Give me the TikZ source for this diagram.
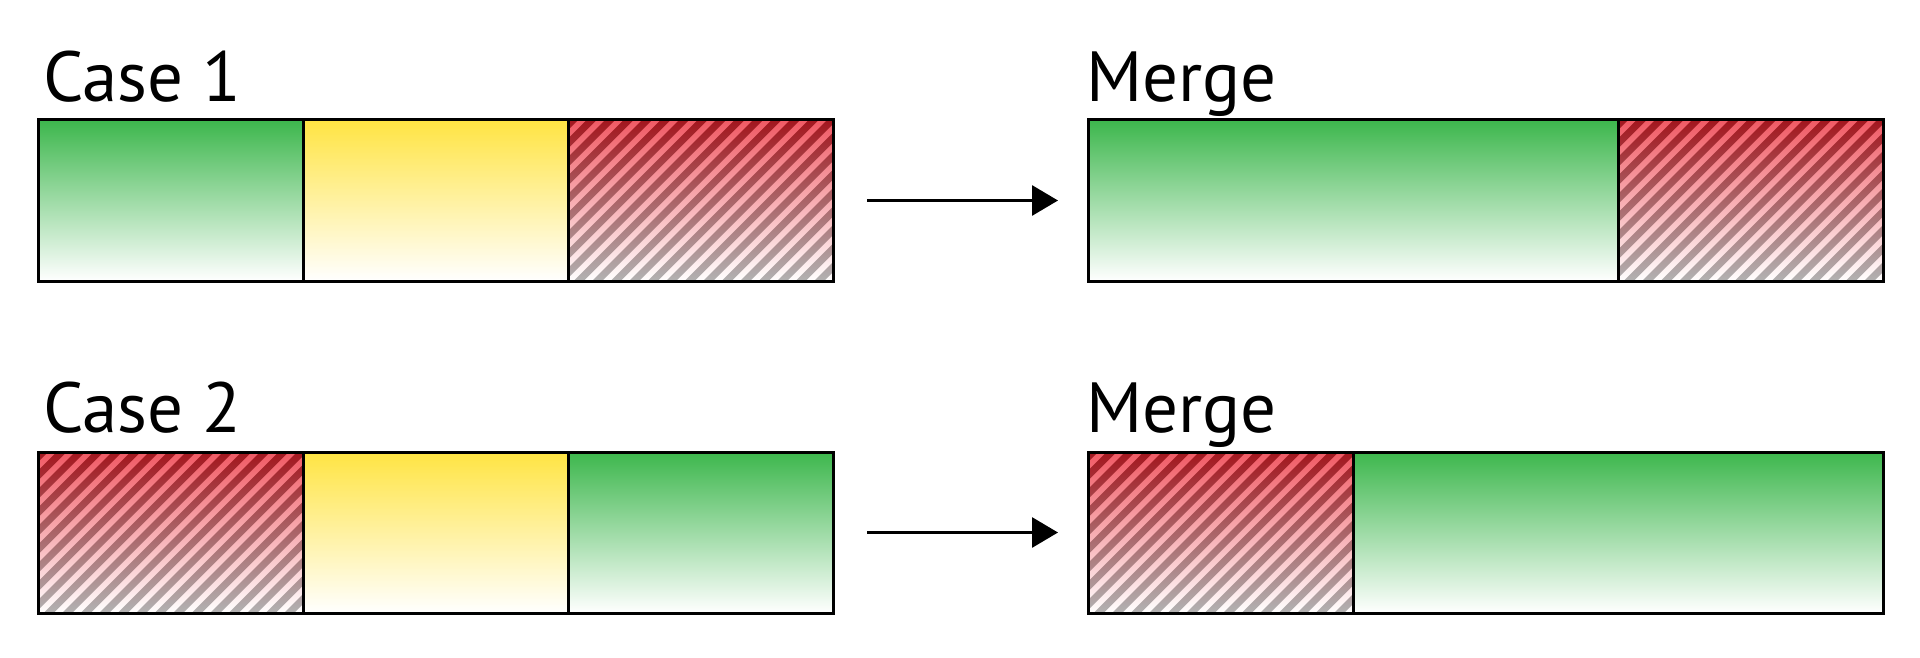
\documentclass[tikz,border=0pt]{standalone}
\usepackage{fontspec}
\setmainfont{PT Sans}
\usetikzlibrary{positioning,arrows.meta}
\definecolor{keepgreen}{RGB}{61,183,77}
\definecolor{midyellow}{RGB}{255,228,67}
\definecolor{droptop}{RGB}{240,90,100}
\definecolor{stripetop}{RGB}{163,22,30}
\definecolor{stripebot}{RGB}{178,178,178}
\tikzset{
  cell/.style={minimum width=265pt, minimum height=161pt, inner sep=0pt, outer sep=0pt,
    draw=black, line width=3pt, anchor=north west},
  keep/.style={cell, top color=keepgreen, bottom color=white},
  middle/.style={cell, top color=midyellow, bottom color=white},
  drop/.style={cell, top color=droptop, bottom color=white,
    path picture={
      \shade[top color=stripetop, bottom color=stripebot]
        \foreach \x in {0,18.5,...,444} {
          ([xshift=\x pt-161pt]path picture bounding box.south west) -- ++(10pt,0pt)
          -- ++(161pt,161pt) -- ++(-10pt,0pt) -- cycle
        };
    }},
  caption/.style={anchor=base west, inner sep=0pt, font=\fontsize{71}{80}\selectfont},
  go/.style={line width=3pt, -{Triangle[length=26pt,width=30pt]}}
}
\begin{document}
\begin{tikzpicture}
\useasboundingbox (0pt,0pt) rectangle (1920pt,-658pt);
% case 1
\node[caption] (case1) at (43pt,-102pt) {Case 1};
\node[keep] (c1a) at (38pt,-120pt) {};
\node[middle, right=0pt of c1a] (c1b) {};
\node[drop, right=0pt of c1b] (c1c) {};
\node[caption] (merge1) at (1086pt,-102pt) {Merge};
\node[keep, minimum width=530pt] (m1a) at (1088pt,-120pt) {};
\node[drop, right=0pt of m1a] (m1b) {};
\draw[go] ([xshift=34pt]c1c.east) -- ([xshift=-30pt]m1a.west);
% case 2
\node[caption] (case2) at (43pt,-432pt) {Case 2};
\node[drop] (c2a) at (38pt,-452pt) {};
\node[middle, right=0pt of c2a] (c2b) {};
\node[keep, right=0pt of c2b] (c2c) {};
\node[caption] (merge2) at (1086pt,-432pt) {Merge};
\node[drop] (m2a) at (1088pt,-452pt) {};
\node[keep, minimum width=530pt, right=0pt of m2a] (m2b) {};
\draw[go] ([xshift=34pt]c2c.east) -- ([xshift=-30pt]m2a.west);
\end{tikzpicture}
\end{document}
